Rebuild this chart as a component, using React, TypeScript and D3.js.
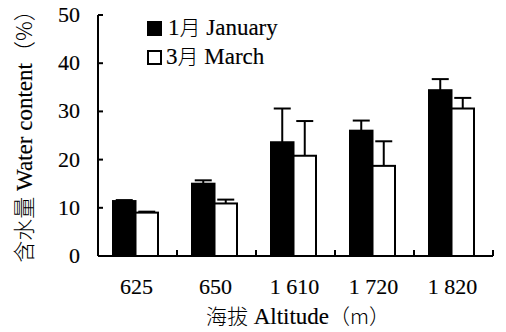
import React from 'react';
import * as d3 from 'd3';

// 海拔 categories
const altitudes = ['625', '650', '1 610', '1 720', '1 820'];
// 1月 January
const janValues = [11.4, 15.0, 23.6, 26.0, 34.4];
const janErrors = [0.2, 0.7, 7.0, 2.1, 2.3];
// 3月 March
const marValues = [9.0, 10.9, 20.8, 18.7, 30.6];
const marErrors = [0.2, 0.8, 7.2, 5.1, 2.2];
const yTicks = [0, 10, 20, 30, 40, 50];

const serif = { fontFamily: 'Liberation Serif', stroke: '#000', strokeWidth: 0.15 };
const cjk = { fontFamily: 'Noto Sans CJK SC', fontWeight: 300 };

export default function App() {
  const width = 506;
  const height = 332;
  const left = 98;
  const right = 493;
  const top = 15;
  const bottom = 256;

  const x = d3.scaleBand().domain(altitudes).range([left, right]);
  const y = d3.scaleLinear().domain([0, 50]).range([bottom, top]);
  const barW = 22.5;
  const capW = 17;

  const series = [
    { values: janValues, errors: janErrors, fill: '#000', offset: -barW },
    { values: marValues, errors: marErrors, fill: '#fff', offset: 0 },
  ];

  return (
    <svg width={width} height={height} style={{ position: 'absolute', left: 0, top: 0, background: '#fff' }}>
      {/* bars and error bars */}
      {series.map((s, si) =>
        altitudes.map((a, i) => {
          const cx = x(a)! + x.bandwidth() / 2 - 2;
          const bx = cx + s.offset;
          const v = s.values[i];
          const e = s.errors[i];
          const mid = bx + barW / 2;
          return (
            <g key={si + '-' + i}>
              <line x1={mid} x2={mid} y1={y(v)} y2={y(v + e)} stroke="#000" strokeWidth={2} />
              <line x1={mid - capW / 2} x2={mid + capW / 2} y1={y(v + e)} y2={y(v + e)} stroke="#000" strokeWidth={2} />
              <rect x={bx} y={y(v)} width={barW} height={y(0) - y(v)} fill={s.fill} stroke="#000" strokeWidth={2} />
            </g>
          );
        })
      )}

      {/* y axis */}
      <line x1={left} x2={left} y1={top} y2={bottom} stroke="#000" strokeWidth={2} />
      {yTicks.map((t) => (
        <g key={t}>
          <line x1={left} x2={left + 5} y1={y(t)} y2={y(t)} stroke="#000" strokeWidth={2} />
          <text x={left - 18} y={y(t) + 7} textAnchor="end" style={serif} fontSize={22}>{t}</text>
        </g>
      ))}

      {/* x axis */}
      <line x1={left} x2={right} y1={bottom} y2={bottom} stroke="#000" strokeWidth={2} />
      {altitudes.map((a) => (
        <g key={a}>
          <line x1={x(a)! + x.bandwidth()} x2={x(a)! + x.bandwidth()} y1={bottom} y2={bottom - 6} stroke="#000" strokeWidth={2} />
          <text x={x(a)! + x.bandwidth() / 2 - 1} y={294} textAnchor="middle" style={serif} fontSize={22}>{a}</text>
        </g>
      ))}

      {/* axis titles */}
      <text x={298} y={324} textAnchor="middle" fontSize={23}>
        <tspan style={cjk} fontSize={21}>海拔</tspan>
        <tspan style={serif}> Altitude</tspan>
        <tspan style={cjk} fontSize={21}>（m）</tspan>
      </text>
      <text transform="translate(32,131) rotate(-90)" textAnchor="middle" fontSize={23}>
        <tspan style={cjk} fontSize={22}>含水量</tspan>
        <tspan style={serif}> Water content</tspan>
        <tspan style={cjk} fontSize={22}>（%）</tspan>
      </text>

      {/* legend */}
      <rect x={148} y={22} width={13} height={13} fill="#000" stroke="#000" strokeWidth={2} />
      <text x={168} y={35} fontSize={23}>
        <tspan style={serif}>1</tspan>
        <tspan style={cjk} fontSize={21}>月</tspan>
        <tspan style={serif}> January</tspan>
      </text>
      <rect x={148} y={51} width={13} height={13} fill="#fff" stroke="#000" strokeWidth={2} />
      <text x={166} y={64} fontSize={23}>
        <tspan style={serif}>3</tspan>
        <tspan style={cjk} fontSize={21}>月</tspan>
        <tspan style={serif}> March</tspan>
      </text>
    </svg>
  );
}
